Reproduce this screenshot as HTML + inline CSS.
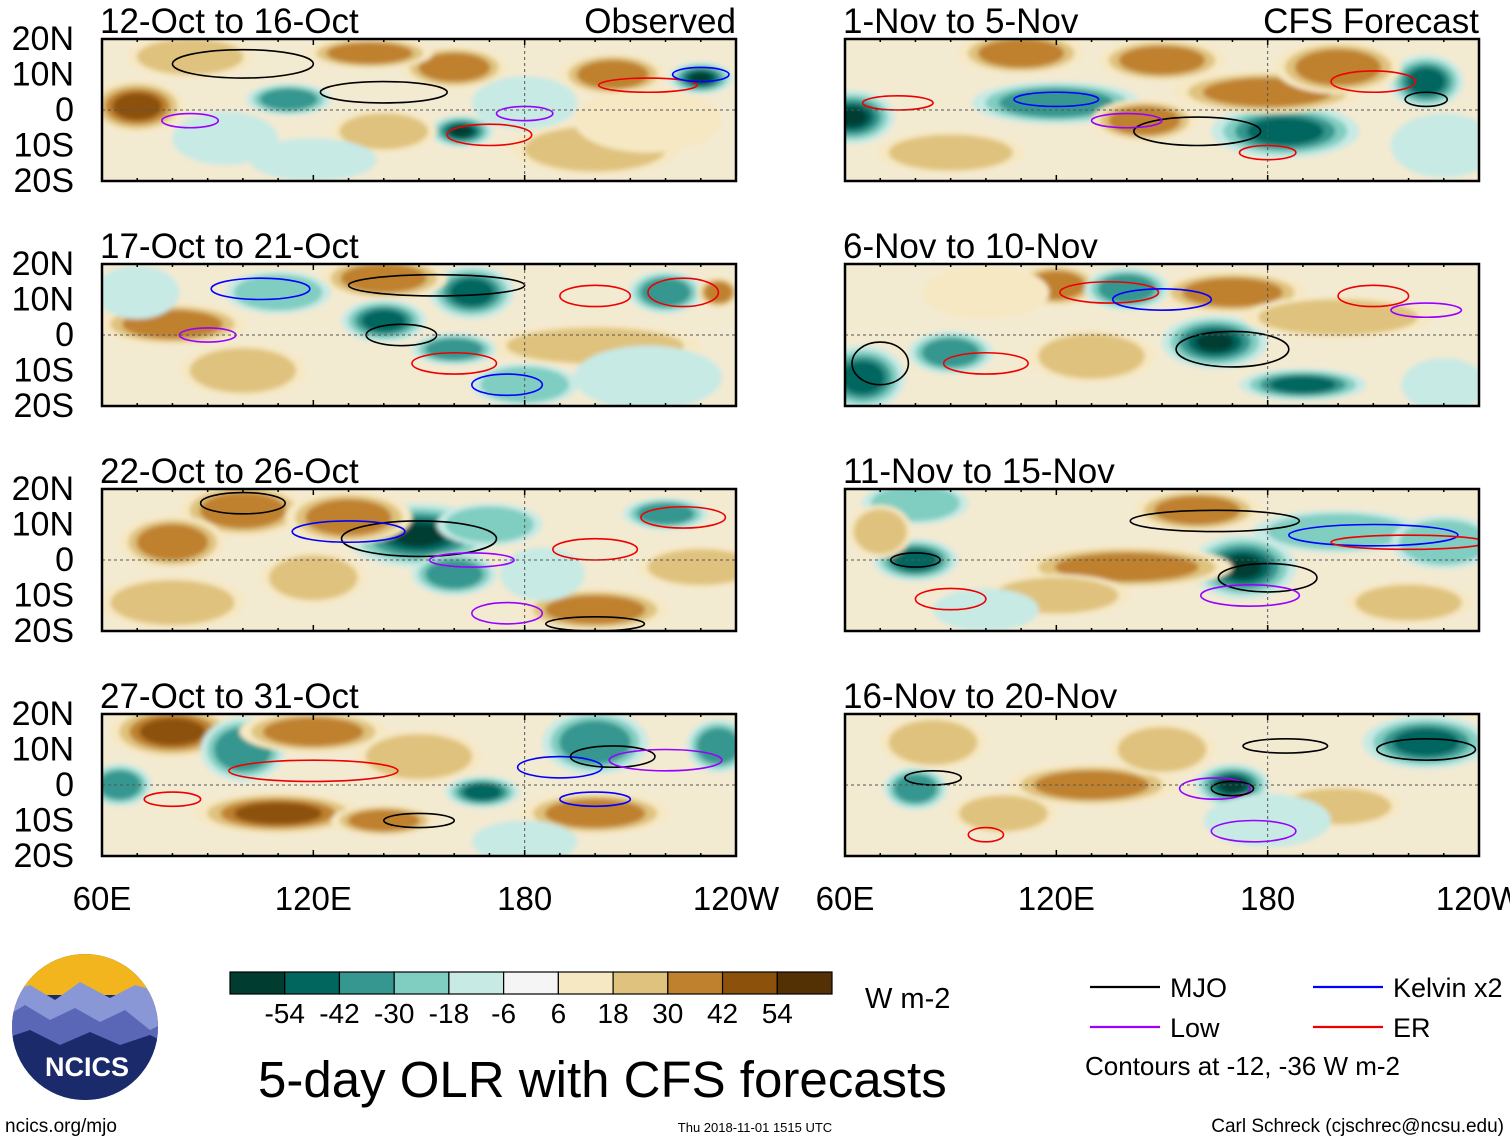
<!DOCTYPE html>
<html><head><meta charset="utf-8"><style>
body{margin:0;background:#fff;width:1510px;height:1142px;overflow:hidden;font-family:"Liberation Sans",sans-serif}
svg{display:block}
</style></head><body>
<svg id="chart" width="1510" height="1142" xmlns="http://www.w3.org/2000/svg"></svg>
<script>
const titles=["12-Oct to 16-Oct","17-Oct to 21-Oct","22-Oct to 26-Oct","27-Oct to 31-Oct","1-Nov to 5-Nov","6-Nov to 10-Nov","11-Nov to 15-Nov","16-Nov to 20-Nov"];
const latTicks=["20N","10N","0","10S","20S"];
const latVals=[20,10,0,-10,-20];
const lonTicks=["60E","120E","180","120W"];
const lonVals=[60,120,180,240];
const cbLabels=["-54","-42","-30","-18","-6","6","18","30","42","54"];
const cbColors=["#003c30","#01665e","#35978f","#80cdc1","#c7eae5","#f5f5f5","#f6e8c3","#dfc27d","#bf812d","#8c510a","#543005"];
// blobs: [panel, lon, lat, rLon, rLat, value]
const blobs=[
[0,70,1,9,5,45],[0,162,-6,6,3,-55],[0,160,12,10,4,35],[0,230,9,6,3,-55],[0,205,10,10,4,30],[0,113,3,8,3,-30],[0,136,16,12,3,38],[0,200,-11,16,5,20],[0,95,-8,10,5,-15],[0,140,-6,10,4,18],[0,85,15,12,4,25],[0,215,-3,14,6,8],[0,120,-14,12,4,-12],[0,180,2,10,5,-8],
[1,80,3,14,4,40],[1,140,4,8,4,-50],[1,165,12,8,5,-50],[1,140,16,12,4,40],[1,220,12,7,4,-30],[1,110,12,10,4,-20],[1,200,-3,20,4,18],[1,160,-4,8,3,-30],[1,235,12,4,3,38],[1,100,-10,12,5,22],[1,215,-12,14,6,-8],[1,70,12,8,5,-12],[1,180,-14,10,4,-20],
[2,150,7,14,6,-55],[2,100,14,12,5,40],[2,130,12,12,5,35],[2,80,5,10,5,30],[2,200,-14,14,4,40],[2,170,10,10,4,-25],[2,220,13,8,3,-35],[2,120,-5,10,5,25],[2,230,-2,12,4,18],[2,160,-4,8,4,-30],[2,185,-4,8,5,-8],[2,80,-12,14,5,22],
[3,80,15,12,5,45],[3,100,10,8,6,-40],[3,120,15,14,4,38],[3,110,-8,16,4,45],[3,140,-10,10,3,35],[3,168,-2,7,3,-50],[3,200,-8,14,4,35],[3,200,12,10,6,-30],[3,235,11,6,5,-35],[3,65,0,6,4,-40],[3,150,8,12,5,28],[3,180,-16,10,4,-15],
[4,62,-2,8,5,-55],[4,120,2,16,4,-40],[4,185,-6,14,5,-50],[4,225,8,7,5,-50],[4,145,-3,10,4,35],[4,180,5,18,4,30],[4,110,16,12,4,35],[4,150,14,12,4,30],[4,90,-12,14,4,25],[4,200,12,12,5,40],[4,230,-10,10,6,-8],
[5,165,-2,10,5,-55],[5,190,-14,12,3,-45],[5,65,-12,8,6,-45],[5,90,-5,8,4,-30],[5,120,14,8,4,40],[5,170,12,14,4,30],[5,200,5,18,4,25],[5,140,13,8,4,-30],[5,230,-14,8,5,-15],[5,130,-6,12,5,20],[5,100,12,12,5,15],
[6,173,-2,10,6,-55],[6,80,0,8,4,-45],[6,140,-2,20,4,35],[6,120,-10,14,4,25],[6,200,8,16,4,-20],[6,80,16,10,4,-25],[6,230,5,10,5,-20],[6,160,14,12,4,30],[6,220,-12,12,4,25],[6,100,-14,10,4,-12],[6,70,8,6,5,22],
[7,170,0,7,4,-55],[7,225,12,12,5,-45],[7,130,0,16,4,32],[7,200,-6,12,4,28],[7,80,-1,6,4,-30],[7,150,10,10,5,20],[7,105,-8,10,4,25],[7,180,-10,12,5,-12],[7,85,12,10,5,18]];
// contours: [panel, lon, lat, rLon, rLat, color]
const contours=[
[0,140,5,18,3,"#000"],[0,100,13,20,4,"#000"],[0,170,-7,12,3,"#e00"],[0,215,7,14,2,"#e00"],[0,230,10,8,2,"#00f"],[0,85,-3,8,2,"#90f"],[0,180,-1,8,2,"#90f"],
[1,155,14,25,3,"#000"],[1,105,13,14,3,"#00f"],[1,200,11,10,3,"#e00"],[1,225,12,10,4,"#e00"],[1,145,0,10,3,"#000"],[1,160,-8,12,3,"#e00"],[1,175,-14,10,3,"#00f"],[1,90,0,8,2,"#90f"],
[2,150,6,22,5,"#000"],[2,100,16,12,3,"#000"],[2,200,3,12,3,"#e00"],[2,225,12,12,3,"#e00"],[2,165,0,12,2,"#90f"],[2,175,-15,10,3,"#90f"],[2,130,8,16,3,"#00f"],[2,200,-18,14,2,"#000"],
[3,120,4,24,3,"#e00"],[3,190,5,12,3,"#00f"],[3,205,8,12,3,"#000"],[3,80,-4,8,2,"#e00"],[3,150,-10,10,2,"#000"],[3,200,-4,10,2,"#00f"],[3,220,7,16,3,"#90f"],
[4,160,-6,18,4,"#000"],[4,120,3,12,2,"#00f"],[4,210,8,12,3,"#e00"],[4,225,3,6,2,"#000"],[4,140,-3,10,2,"#90f"],[4,75,2,10,2,"#e00"],[4,180,-12,8,2,"#e00"],
[5,170,-4,16,5,"#000"],[5,135,12,14,3,"#e00"],[5,150,10,14,3,"#00f"],[5,100,-8,12,3,"#e00"],[5,210,11,10,3,"#e00"],[5,225,7,10,2,"#90f"],[5,70,-8,8,6,"#000"],
[6,165,11,24,3,"#000"],[6,180,-5,14,4,"#000"],[6,210,7,24,3,"#00f"],[6,220,5,22,2,"#e00"],[6,80,0,7,2,"#000"],[6,90,-11,10,3,"#e00"],[6,175,-10,14,3,"#90f"],
[7,165,-1,10,3,"#90f"],[7,170,-1,6,2,"#000"],[7,185,11,12,2,"#000"],[7,225,10,14,3,"#000"],[7,85,2,8,2,"#000"],[7,176,-13,12,3,"#90f"],[7,100,-14,5,2,"#e00"]];

const NS="http://www.w3.org/2000/svg";
const svg=document.getElementById("chart");
function el(t,a,p){const e=document.createElementNS(NS,t);for(const k in a)e.setAttribute(k,a[k]);(p||svg).appendChild(e);return e;}
function txt(s,a,p){const e=el("text",a,p);e.textContent=s;return e;}
const W=634,H=142,tops=[39,264,489,714],lefts=[102,845];
const SZ=1.5;
function xs(px,lon){return px+(lon-60)/180*W;}
function ys(py,lat){return py+(20-lat)/40*H;}
function colorFor(v){let i=0;const b=[-54,-42,-30,-18,-6,6,18,30,42,54];while(i<b.length&&v>b[i])i++;return cbColors[i];}
const defs=el("defs",{});
const f=el("filter",{id:"blur",x:"-20%",y:"-20%",width:"140%",height:"140%"},defs);
el("feGaussianBlur",{stdDeviation:"2.5"},f);
for(let p=0;p<8;p++){
  const px=lefts[p<4?0:1],py=tops[p%4];
  const g=el("g",{});
  
  
  const cp=el("clipPath",{id:"cp"+p},defs);el("rect",{x:px,y:py,width:W,height:H},cp);
  const inner=el("g",{"clip-path":"url(#cp"+p+")"},g);
  el("rect",{x:px,y:py,width:W,height:H,fill:"#f3ead2"},inner);
  const bg=el("g",{filter:"url(#blur)"},inner);
  blobs.filter(b=>b[0]===p).forEach(b=>{
    const m=Math.abs(b[5]);
    const steps=[];for(const v of [6,18,30,42,54,66]){if(m>=v)steps.push(v);}
    steps.forEach((v,k)=>{const sc=1-k*0.16;
      const e=el("ellipse",{cx:xs(px,b[1]),cy:ys(py,b[2]),rx:SZ*b[3]/180*W*sc,ry:SZ*b[4]/40*H*sc,fill:colorFor(Math.sign(b[5])*(v+1))},bg);
      
      });
  });
  contours.filter(c=>c[0]===p).forEach(c=>{
    const e=el("ellipse",{cx:xs(px,c[1]),cy:ys(py,c[2]),rx:c[3]/180*W,ry:c[4]/40*H,fill:"none",stroke:c[5],"stroke-width":1.6},inner);
    
    
  });
  el("line",{x1:px,x2:px+W,y1:ys(py,0),y2:ys(py,0),stroke:"#555","stroke-dasharray":"3,3","stroke-width":1},inner);
  el("line",{x1:xs(px,180),x2:xs(px,180),y1:py,y2:py+H,stroke:"#555","stroke-dasharray":"3,3","stroke-width":1},inner);
  el("rect",{x:px,y:py,width:W,height:H,fill:"none",stroke:"#000","stroke-width":2.5},g);
  for(let l=60;l<=240;l+=10){const x=xs(px,l);const len=(l%60===0)?6:3;
    el("line",{x1:x,x2:x,y1:py,y2:py+len,stroke:"#000","stroke-width":1.5},g);
    el("line",{x1:x,x2:x,y1:py+H,y2:py+H-len,stroke:"#000","stroke-width":1.5},g);}
  const t=txt(titles[p],{x:px-2,y:py-6,"font-size":35,fill:"#000"},g);
  
  
  if(p===0){const o=txt("Observed",{x:px+W,y:py-6,"font-size":35,"text-anchor":"end"},g);}
  if(p===4){const o=txt("CFS Forecast",{x:px+W,y:py-6,"font-size":35,"text-anchor":"end"},g);}
  if(p<4){latVals.forEach((v,i)=>{const l=txt(latTicks[i],{x:74,y:ys(py,v)+11,"font-size":34,"text-anchor":"end"},g);
    });}
  if(p%4===3){lonVals.forEach((v,i)=>{const l=txt(lonTicks[i],{x:xs(px,v),y:910,"font-size":33,"text-anchor":"middle"},g);
    });}
}
const cb=el("g",{});
const cbw=602/11;
cbColors.forEach((c,i)=>{el("rect",{x:230+i*cbw,y:972,width:cbw,height:22,fill:c,stroke:"#000","stroke-width":1.2},cb);});
cbLabels.forEach((s,i)=>{const l=txt(s,{x:230+(i+1)*cbw,y:1023,"font-size":28,"text-anchor":"middle"},cb);
  });
txt("W m-2",{x:865,y:1008,"font-size":29},cb);
const tt=txt("5-day OLR with CFS forecasts",{x:258,y:1097,"font-size":51});
const lg=el("g",{});
[["MJO","#000",1090,987],["Low","#90f",1090,1027],["Kelvin x2","#00f",1313,987],["ER","#e00",1313,1027]].forEach(a=>{
  el("line",{x1:a[2],x2:a[2]+70,y1:a[3],y2:a[3],stroke:a[1],"stroke-width":2.2},lg);
  const l=txt(a[0],{x:a[2]+80,y:a[3]+10,"font-size":27},lg);});
txt("Contours at -12, -36 W m-2",{x:1085,y:1075,"font-size":26},lg);
const lo=el("g",{});
const lcp=el("clipPath",{id:"lcp"},defs);el("circle",{cx:85,cy:1027,r:73},lcp);
const lgg=el("g",{"clip-path":"url(#lcp)"},lo);
el("rect",{x:0,y:950,width:170,height:160,fill:"#1b2a6b"},lgg);
el("rect",{x:0,y:950,width:170,height:45,fill:"#f3b51d"},lgg);
el("path",{d:"M0 995 L30 985 L55 1000 L80 982 L110 998 L135 985 L170 995 L170 1040 L0 1040Z",fill:"#8a97d6"},lgg);
el("path",{d:"M0 1020 L25 1005 L50 1020 L75 1008 L100 1022 L125 1010 L150 1030 L170 1020 L170 1050 L0 1050Z",fill:"#5a67b7"},lgg);
el("path",{d:"M0 1040 L30 1030 L60 1045 L90 1032 L120 1045 L150 1035 L170 1045 L170 1110 L0 1110Z",fill:"#1b2a6b"},lgg);
txt("NCICS",{x:87,y:1076,"font-size":27,"font-weight":"bold",fill:"#fff","text-anchor":"middle"},lo);
txt("ncics.org/mjo",{x:5,y:1132,"font-size":19});
txt("Thu 2018-11-01 1515 UTC",{x:755,y:1132,"font-size":13,"text-anchor":"middle"});
txt("Carl Schreck (cjschrec@ncsu.edu)",{x:1504,y:1132,"font-size":19,"text-anchor":"end"});
</script>
</body></html>
